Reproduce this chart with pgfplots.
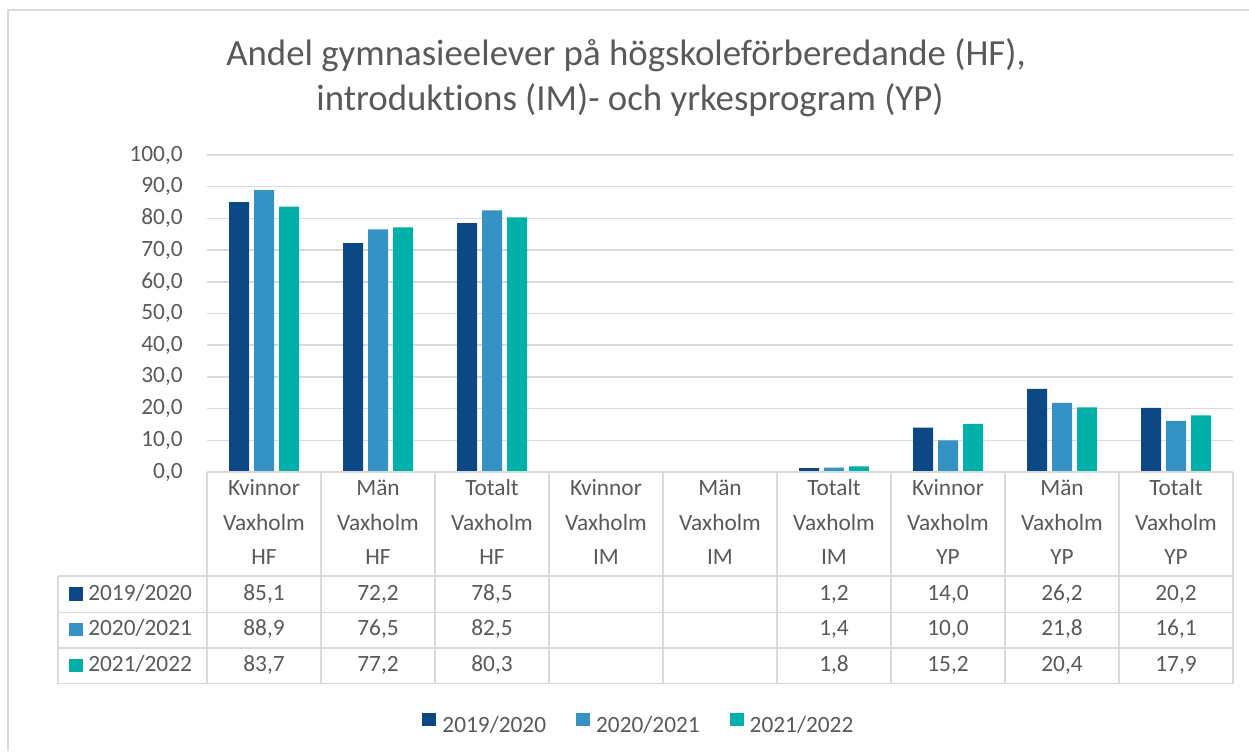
\documentclass[border=0pt]{standalone}
\usepackage{pgfplots}
\pgfplotsset{compat=1.18}
\usepackage{fontspec}
\setmainfont{Carlito}[Ligatures=NoCommon]
\definecolor{c1}{HTML}{0B4884}
\definecolor{c2}{HTML}{3592C4}
\definecolor{c3}{HTML}{00B0A9}
\definecolor{tgray}{HTML}{595959}
\definecolor{lgray}{HTML}{D9D9D9}
\newcommand{\tf}{\fontsize{14}{16.8}\selectfont}
\newcommand{\cell}[3]{\node[anchor=base,inner sep=0pt,text=tgray,font=\tf] at ({264+114*#1},#2) {#3};}
\begin{document}
\begin{tikzpicture}
\useasboundingbox (0,0) rectangle (749.4pt,450.6pt);
\begin{axis}[
  at={(124.2pt,167.4pt)}, anchor=south west,
  scale only axis, width=615.6pt, height=190.2pt,
  xmin=-0.5, xmax=8.5, ymin=0, ymax=100,
  ytick={0,10,...,100}, xtick=\empty,
  ymajorgrids, grid style={draw=lgray, line width=0.9pt},
  axis line style={draw=none}, major tick length=0pt,
  /pgf/number format/fixed, /pgf/number format/fixed zerofill, /pgf/number format/precision=1,
  /pgf/number format/use comma, /pgf/number format/assume math mode=true,
  yticklabel style={font=\tf, text=tgray, inner sep=0pt, xshift=-14.4pt},
  ybar, bar width=12pt,
  legend style={at={(0.420,-0.795)}, anchor=center, draw=none, fill=none, font=\tf, text=tgray,
    nodes={inner sep=0pt},
    /tikz/every odd column/.append style={column sep=3.6pt},
    /tikz/every even column/.append style={column sep=18pt}},
  legend columns=3,
  legend image code/.code={\fill[#1,draw=none] (0pt,0pt) rectangle (8.4pt,8.1pt);},
]
\addplot[fill=c1, draw=none, bar shift=-15pt] coordinates {(0,85.1) (1,72.2) (2,78.5) (5,1.2) (6,14.0) (7,26.2) (8,20.2)};
\addplot[fill=c2, draw=none, bar shift=0pt] coordinates {(0,88.9) (1,76.5) (2,82.5) (5,1.4) (6,10.0) (7,21.8) (8,16.1)};
\addplot[fill=c3, draw=none, bar shift=15pt] coordinates {(0,83.7) (1,77.2) (2,80.3) (5,1.8) (6,15.2) (7,20.4) (8,17.9)};
\legend{2019/2020,2020/2021,2021/2022}
\end{axis}
\begin{scope}[x=0.6pt,y=-0.6pt,shift={(0pt,450.6pt)}]
  % outer border
  \draw[lgray, line width=0.9pt] (8,751) -- (8,10) -- (1249,10);
  % table lines
  \draw[lgray, line width=1.1pt] (207,472) -- (1233,472);
  \foreach \k in {0,...,9} {\draw[lgray, line width=0.9pt] ({207+114*\k},472) -- ({207+114*\k},683.5);}
  \draw[lgray, line width=0.9pt] (58,576) -- (58,683.5);
  \foreach \yy in {576,612.5,648,683.5} {\draw[lgray, line width=0.9pt] (58,\yy) -- (1233,\yy);}
  % title
  \node[anchor=base,inner sep=0pt,text=tgray,font=\fontsize{22.1}{26}\selectfont] at (626,66) {Andel gymnasieelever på högskoleförberedande (HF),};
  \node[anchor=base,inner sep=0pt,text=tgray,font=\fontsize{22.1}{26}\selectfont] at (630,111) {introduktions (IM)- och yrkesprogram (YP)};
  % header
  \foreach \a/\b [count=\i from 0] in {Kvinnor/HF,Män/HF,Totalt/HF,Kvinnor/IM,Män/IM,Totalt/IM,Kvinnor/YP,Män/YP,Totalt/YP} {
    \cell{\i}{495.7}{\a}
    \cell{\i}{530.7}{Vaxholm}
    \cell{\i}{564}{\b}
  }
  % row labels
  \fill[c1] (69,587) rectangle (83,600.5);
  \fill[c2] (69,622.7) rectangle (83,636.2);
  \fill[c3] (69,658.7) rectangle (83,672.2);
  \node[anchor=base west,inner sep=0pt,text=tgray,font=\tf] at (88,600) {2019/2020};
  \node[anchor=base west,inner sep=0pt,text=tgray,font=\tf] at (88,635.7) {2020/2021};
  \node[anchor=base west,inner sep=0pt,text=tgray,font=\tf] at (88,671.7) {2021/2022};
  % values
  \cell{0}{600}{85,1}\cell{1}{600}{72,2}\cell{2}{600}{78,5}\cell{5}{600}{1,2}\cell{6}{600}{14,0}\cell{7}{600}{26,2}\cell{8}{600}{20,2}
  \cell{0}{635.7}{88,9}\cell{1}{635.7}{76,5}\cell{2}{635.7}{82,5}\cell{5}{635.7}{1,4}\cell{6}{635.7}{10,0}\cell{7}{635.7}{21,8}\cell{8}{635.7}{16,1}
  \cell{0}{671.7}{83,7}\cell{1}{671.7}{77,2}\cell{2}{671.7}{80,3}\cell{5}{671.7}{1,8}\cell{6}{671.7}{15,2}\cell{7}{671.7}{20,4}\cell{8}{671.7}{17,9}
\end{scope}
\end{tikzpicture}
\end{document}
